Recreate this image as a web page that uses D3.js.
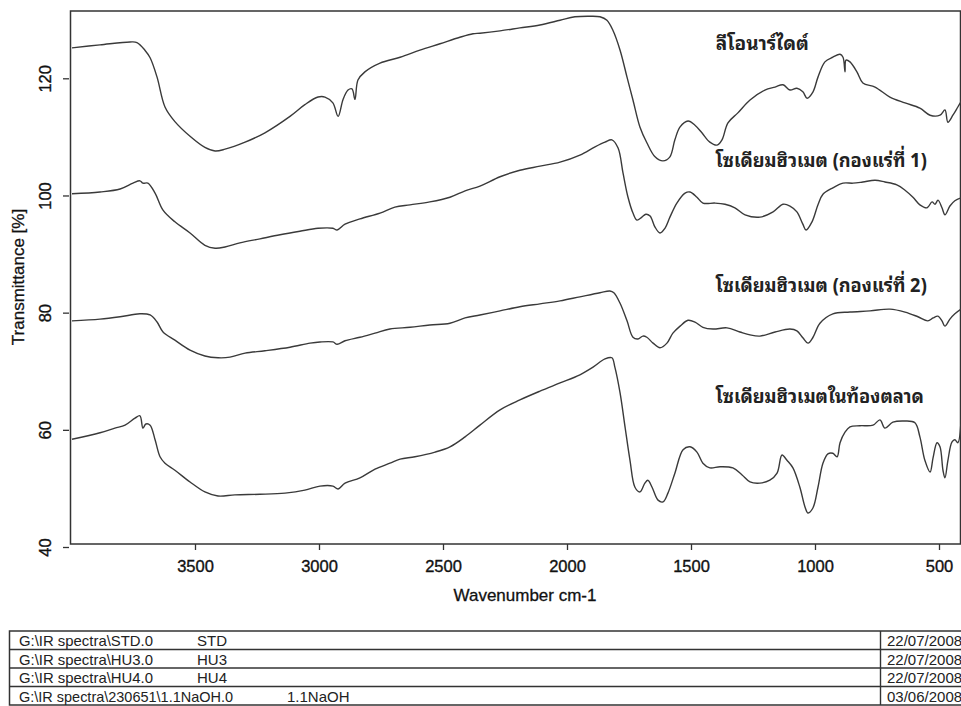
<!DOCTYPE html>
<html><head><meta charset="utf-8">
<script src="https://cdn.jsdelivr.net/npm/d3@7"></script>
<style>
body{margin:0;background:#fff;}
svg{display:block;}
</style></head>
<body>
<svg id="chart" width="961" height="706"></svg>
<script>
// ---- data ----
const xTicks = [3500, 3000, 2500, 2000, 1500, 1000, 500];
const yTicks = [40, 60, 80, 100, 120];

const wnSTD = [3996,3883,3762,3734,3702,3681,3653,3621,3581,3520,3460,3419,3379,3298,3218,3117,3057,3004,2976,2944,2923,2903,2883,2867,2855,2843,2815,2754,2673,2593,2512,2432,2379,2351,2270,2190,2109,2028,1968,1907,1867,1839,1815,1786,1758,1734,1706,1678,1645,1613,1585,1565,1544,1512,1484,1456,1424,1395,1375,1351,1311,1262,1202,1161,1129,1101,1073,1049,1032,1008,988,960,928,899,887,879,875,859,831,807,758,698,637,577,536,496,476,464,444,424,407];
const tSTD = [125.2,125.7,126.2,126.1,124.8,123.5,120.2,115.1,112.6,110.1,108.2,107.6,107.9,109.1,110.7,113.5,115.5,116.8,116.8,115.8,113.5,116.4,118.0,118.2,116.4,119.7,121.1,122.6,123.6,124.8,125.9,127.0,127.6,127.7,128.1,128.6,129.1,129.9,130.5,130.6,130.5,129.9,128.2,124.8,120.2,116.3,111.7,109.0,106.6,105.9,106.6,109.5,111.7,112.7,112.0,110.7,109.1,108.6,109.5,112.4,114.1,116.3,118.0,118.5,118.9,118.0,118.3,117.7,116.6,117.7,120.2,122.8,123.6,124.1,123.6,121.1,123.1,122.8,121.1,119.2,118.5,116.8,115.8,114.9,113.7,113.7,114.6,112.5,113.7,115.1,116.3];

const wnHU3 = [3996,3883,3802,3750,3722,3710,3690,3661,3629,3581,3520,3460,3419,3379,3319,3238,3157,3077,3004,2944,2927,2895,2835,2754,2694,2633,2553,2472,2411,2351,2270,2190,2109,2028,1948,1887,1847,1819,1794,1774,1754,1734,1718,1698,1682,1665,1645,1625,1605,1585,1557,1524,1504,1476,1452,1403,1363,1323,1282,1222,1169,1129,1101,1073,1049,1036,1012,988,968,928,887,847,807,758,718,670,637,605,577,548,528,516,504,488,476,456,436,411];
const tHU3 = [100.3,100.6,101.1,102.1,102.5,102.1,102.1,100.4,97.5,95.5,93.6,91.5,91.0,91.2,91.9,92.6,93.3,93.9,94.4,94.4,94.1,95.1,96.0,97.0,98.0,98.4,98.9,99.7,100.8,101.6,103.2,104.3,105.0,105.7,106.9,108.3,109.1,109.5,108.1,103.8,99.7,97.0,95.8,96.3,96.8,96.5,94.6,93.6,94.4,96.3,98.7,100.4,100.6,99.7,98.7,98.7,98.5,97.9,96.7,96.3,97.2,98.5,98.2,97.2,95.1,94.1,95.5,98.4,100.2,101.3,102.1,102.1,102.3,102.6,102.3,101.8,100.9,99.7,98.4,97.9,98.9,98.5,99.2,97.9,96.7,98.2,99.1,99.6];

const wnHU4 = [3996,3883,3802,3722,3681,3653,3629,3581,3520,3460,3407,3359,3298,3218,3117,3036,2996,2944,2927,2895,2835,2774,2714,2633,2553,2472,2411,2351,2270,2190,2109,2028,1948,1867,1827,1811,1786,1758,1734,1714,1694,1678,1653,1625,1597,1573,1544,1512,1484,1452,1411,1355,1303,1262,1222,1161,1101,1073,1049,1028,1008,980,928,859,778,698,637,585,545,524,504,488,476,456,436,411];
const tHU4 = [78.6,78.9,79.3,79.8,79.6,78.4,76.7,75.3,73.6,72.6,72.3,72.4,73.1,73.5,74.1,74.8,75.0,75.0,74.6,75.2,75.8,76.5,77.2,77.5,77.9,78.2,79.1,79.6,80.3,81.0,81.5,82.0,82.7,83.4,83.7,83.4,81.6,78.6,75.8,75.5,76.0,75.8,74.8,74.0,74.8,76.5,77.7,78.7,78.4,77.5,77.2,77.4,76.7,76.2,76.0,76.7,77.2,76.9,75.7,74.8,75.8,78.2,79.8,80.1,80.3,80.6,80.1,79.3,78.6,79.1,79.4,78.6,77.7,78.9,79.8,80.6];

const wnNaOH = [3996,3883,3823,3782,3742,3722,3710,3698,3681,3661,3641,3621,3581,3520,3460,3407,3339,3238,3137,3057,2996,2944,2923,2895,2835,2774,2714,2673,2613,2532,2472,2411,2351,2270,2190,2109,2028,1948,1895,1847,1819,1807,1786,1766,1746,1726,1706,1686,1674,1657,1633,1613,1593,1565,1532,1504,1476,1452,1424,1383,1331,1294,1262,1222,1182,1153,1133,1113,1089,1061,1040,1028,1008,988,968,948,928,911,899,879,859,819,766,738,718,686,637,597,577,557,536,524,508,496,484,476,464,448,436,424,411];
const tNaOH = [58.4,59.5,60.3,60.8,62.0,62.4,60.3,61.0,60.8,58.3,55.4,54.3,53.1,51.1,49.4,48.7,48.9,49.0,49.2,49.7,50.4,50.4,49.9,50.9,51.8,53.3,54.3,55.0,55.4,56.2,57.1,58.8,60.8,63.4,65.1,66.6,68.0,69.4,70.7,72.1,72.3,70.7,66.3,60.5,54.8,50.2,49.4,50.9,51.4,50.2,48.0,47.7,49.2,52.6,56.6,57.1,56.2,54.3,53.5,53.7,53.5,52.3,51.1,50.9,51.4,52.6,55.7,54.8,53.5,50.2,46.8,45.8,46.7,50.2,54.3,55.9,56.0,55.4,57.8,59.6,60.5,60.7,60.8,61.7,60.3,61.3,61.5,61.2,58.8,54.8,52.8,55.2,57.8,57.1,53.1,51.8,54.8,57.9,58.3,57.8,61.7];

const curveLabels = ["ลีโอนาร์ไดต์", "โซเดียมฮิวเมต (กองแร่ที่ 1)", "โซเดียมฮิวเมต (กองแร่ที่ 2)", "โซเดียมฮิวเมตในท้องตลาด"];
const labelValues = [124.8, 104.8, 83.6, 64.5]; // transmittance level of each label baseline
const labelWn = 1400;

const filePaths = ["G:\\IR spectra\\STD.0", "G:\\IR spectra\\HU3.0", "G:\\IR spectra\\HU4.0", "G:\\IR spectra\\230651\\1.1NaOH.0"];
const sampleNames = ["STD", "HU3", "HU4", "1.1NaOH"];
const dates = ["22/07/2008", "22/07/2008", "22/07/2008", "03/06/2008"];

const xTitle = "Wavenumber cm-1";
const yTitle = "Transmittance [%]";

// ---- drawing ----
const svg = d3.select("#chart");
const ink = "#333";
const frame = {left: 70.5, right: 960.5, top: 11, bottom: 544};
const font = "Liberation Sans, Arial, sans-serif";

const x = d3.scaleLinear().domain([4000, 400]).range([71, 963.8]);
const y = d3.scaleLinear().domain([40, 120]).range([547, 78.3]);

svg.append("rect").attr("width", 961).attr("height", 706).attr("fill", "#fff");

// frame
svg.append("rect")
  .attr("x", frame.left).attr("y", frame.top)
  .attr("width", frame.right - frame.left).attr("height", frame.bottom - frame.top)
  .attr("fill", "none").attr("stroke", ink).attr("stroke-width", 1.5);

// x axis
const xAxis = d3.axisBottom(x).tickValues(xTicks).tickSize(6).tickPadding(5).tickFormat(d3.format("d"));
const gx = svg.append("g").attr("transform", `translate(0,${frame.bottom})`).call(xAxis);
gx.select(".domain").remove();
gx.selectAll(".tick line").attr("stroke", ink).attr("stroke-width", 1.3);
gx.selectAll(".tick text").attr("fill", "#111").attr("font-family", font)
  .attr("font-size", 16.5).attr("dy", "1.05em")
  .attr("stroke", "#111").attr("stroke-width", 0.35);

// y axis
const yAxis = d3.axisLeft(y).tickValues(yTicks).tickSize(6).tickFormat(d3.format("d"));
const gy = svg.append("g").attr("transform", `translate(69,0)`).call(yAxis);
gy.select(".domain").remove();
gy.selectAll(".tick line").attr("stroke", ink).attr("stroke-width", 1.3);
gy.selectAll(".tick text").attr("fill", "#111").attr("font-family", font)
  .attr("font-size", 16.5)
  .attr("stroke", "#111").attr("stroke-width", 0.35)
  .attr("x", 0).attr("dy", 0)
  .attr("text-anchor", "middle")
  .attr("transform", "translate(-18,0) rotate(-90)");

// titles
svg.append("text").attr("x", 525).attr("y", 601).attr("text-anchor", "middle")
  .attr("font-family", font).attr("font-size", 17).attr("fill", "#111")
  .attr("stroke", "#111").attr("stroke-width", 0.3)
  .text(xTitle);
svg.append("text").attr("transform", "translate(24,277) rotate(-90)").attr("text-anchor", "middle")
  .attr("font-family", font).attr("font-size", 17).attr("fill", "#111")
  .attr("stroke", "#111").attr("stroke-width", 0.3)
  .text(yTitle);

// spectra
const series = [[wnSTD, tSTD], [wnHU3, tHU3], [wnHU4, tHU4], [wnNaOH, tNaOH]];
const line = d3.line().x(d => x(d[0])).y(d => y(d[1])).curve(d3.curveCatmullRom.alpha(0.5));
svg.append("clipPath").attr("id", "clip").append("rect")
  .attr("x", frame.left).attr("y", frame.top).attr("width", 961 - frame.left).attr("height", frame.bottom - frame.top);
const gl = svg.append("g").attr("clip-path", "url(#clip)");
series.forEach(([w, t]) => {
  gl.append("path").datum(w.map((v, i) => [v, t[i]]))
    .attr("d", line).attr("fill", "none").attr("stroke", "#3a3a3a").attr("stroke-width", 1.4)
    .attr("stroke-linejoin", "round");
});

// curve labels
const labelWidths = [93, 211, 211, 208];
curveLabels.forEach((s, i) => {
  svg.append("text").attr("x", x(labelWn)).attr("y", y(labelValues[i]))
    .attr("font-family", "Noto Sans Thai Looped, Loma, Garuda, Noto Sans Thai, Tahoma, sans-serif")
    .attr("font-weight", "bold").attr("font-size", 19).attr("fill", "#222")
    .attr("textLength", labelWidths[i]).attr("lengthAdjust", "spacingAndGlyphs")
    .text(s);
});

// table
const tbl = {left: 9.5, right: 968, top: 631, rowH: 18.5, divX: 880.5};
const gt = svg.append("g");
const nRows = filePaths.length;
gt.append("rect").attr("x", tbl.left).attr("y", tbl.top)
  .attr("width", tbl.right - tbl.left).attr("height", tbl.rowH * nRows)
  .attr("fill", "none").attr("stroke", ink).attr("stroke-width", 1.5);
for (let i = 1; i < nRows; i++) {
  gt.append("line").attr("x1", tbl.left).attr("x2", tbl.right)
    .attr("y1", tbl.top + i * tbl.rowH).attr("y2", tbl.top + i * tbl.rowH)
    .attr("stroke", ink).attr("stroke-width", 1.4);
}
gt.append("line").attr("x1", tbl.divX).attr("x2", tbl.divX)
  .attr("y1", tbl.top).attr("y2", tbl.top + tbl.rowH * nRows).attr("stroke", ink).attr("stroke-width", 1.4);
filePaths.forEach((p, i) => {
  const by = tbl.top + i * tbl.rowH + 15;
  const g = gt.append("g").attr("font-family", font).attr("font-size", 15).attr("fill", "#222");
  g.append("text").attr("x", 19).attr("y", by).attr("textLength", i === 3 ? 214 : 134).attr("lengthAdjust", "spacingAndGlyphs").text(p);
  g.append("text").attr("x", i === 3 ? 287 : 197).attr("y", by).text(sampleNames[i]);
  g.append("text").attr("x", 887).attr("y", by).text(dates[i]);
});
</script>
</body></html>
